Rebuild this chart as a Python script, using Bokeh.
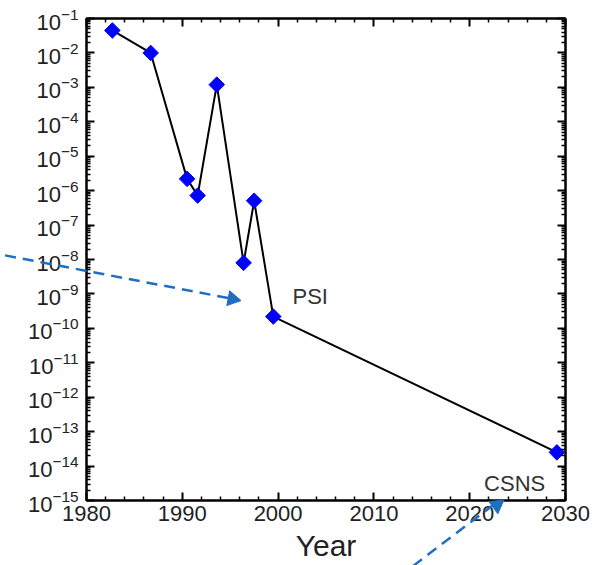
from bokeh.plotting import figure
from bokeh.models import FixedTicker, LogAxis, LinearAxis, Label, ColumnDataSource
from bokeh.embed import file_html
from bokeh.resources import INLINE
import math

# data
years = [1982.7, 1986.7, 1990.5, 1991.6, 1993.6, 1996.4, 1997.5, 1999.5, 2029.1]
values = [4.5e-2, 1.0e-2, 2.2e-6, 7.2e-7, 1.2e-3, 8.0e-9, 5.1e-7, 2.2e-10, 2.5e-14]
x_ticks = [1980, 1990, 2000, 2010, 2020, 2030]
x_minor = [1982, 1984, 1986, 1988, 1992, 1994, 1996, 1998, 2002, 2004, 2006, 2008,
           2012, 2014, 2016, 2018, 2022, 2024, 2026, 2028]
y_exponents = [-15, -14, -13, -12, -11, -10, -9, -8, -7, -6, -5, -4, -3, -2, -1]
annotations = ["PSI", "CSNS"]

y_ticks = [10.0 ** e for e in y_exponents]
y_minor = [m * 10.0 ** e for e in y_exponents[:-1] for m in range(2, 10)]

FONT = "Liberation Sans"
TXT = "#222222"
BLUE = "#1f6fc0"

p = figure(frame_width=479, frame_height=482, y_axis_type="log",
           x_range=(1980, 2030), y_range=(1e-15, 1e-1),
           output_backend="svg", toolbar_location=None,
           min_border_left=86, min_border_right=37, min_border_top=18, min_border_bottom=65)

p.xgrid.grid_line_color = None
p.ygrid.grid_line_color = None
p.outline_line_color = "black"
p.outline_line_width = 2

xt = FixedTicker(ticks=x_ticks, minor_ticks=x_minor)
yt = FixedTicker(ticks=y_ticks, minor_ticks=y_minor)

def style(ax):
    ax.axis_line_color = "black"
    ax.axis_line_width = 2
    ax.major_tick_in = 8
    ax.major_tick_out = 0
    ax.minor_tick_in = 4
    ax.minor_tick_out = 0
    ax.major_tick_line_width = 2
    ax.minor_tick_line_width = 1.5
    ax.major_label_text_font = FONT
    ax.major_label_text_font_size = "22px"
    ax.major_label_text_color = TXT

p.xaxis.ticker = xt
p.yaxis.ticker = yt
style(p.xaxis[0])
style(p.yaxis[0])
p.xaxis.major_label_standoff = 5
p.yaxis.major_label_standoff = 8
p.xaxis.axis_label = "Year"
p.xaxis.axis_label_text_font = FONT
p.xaxis.axis_label_text_font_style = "normal"
p.xaxis.axis_label_text_font_size = "30px"
p.xaxis.axis_label_text_color = TXT
p.xaxis.axis_label_standoff = 5

top = LinearAxis(ticker=xt)
style(top)
top.major_label_text_font_size = "1px"
top.major_label_text_color = None
top.major_label_standoff = 0
p.add_layout(top, "above")

right = LogAxis(ticker=yt)
style(right)
right.major_label_text_font_size = "1px"
right.major_label_text_color = None
right.major_label_standoff = 0
p.add_layout(right, "right")

src = ColumnDataSource(dict(x=years, y=values))
p.line("x", "y", source=src, line_color="black", line_width=2)
p.scatter("x", "y", source=src, marker="square", angle=math.pi / 4, size=11,
          fill_color="#0000ff", line_color="#0000ff")

# dashed arrows (drawn at overlay level so they may leave the frame)
p.segment(x0=[1971.5, 2014.1], y0=[10 ** -7.88, 10 ** -16.9],
          x1=[1995.0, 2022.6], y1=[10 ** -9.13, 10 ** -15.1],
          line_color=BLUE, line_width=2.5, line_dash="11 7", level="overlay")
p.scatter(x=[1995.24, 2022.84], y=[10 ** -9.147, 10 ** -15.136], marker="triangle",
          angle=[-1.76, -0.946], size=15, fill_color=BLUE, line_color=BLUE, level="overlay")

p.add_layout(Label(x=2001.5, y=10 ** -9.07, text=annotations[0], text_baseline="middle",
                   text_font=FONT, text_font_size="22px", text_color="#333333"))
p.add_layout(Label(x=2021.5, y=10 ** -14.5, text=annotations[1], text_baseline="middle",
                   text_font=FONT, text_font_size="22px", text_color="#333333"))

open("out.html", "w").write(file_html(p, INLINE))
